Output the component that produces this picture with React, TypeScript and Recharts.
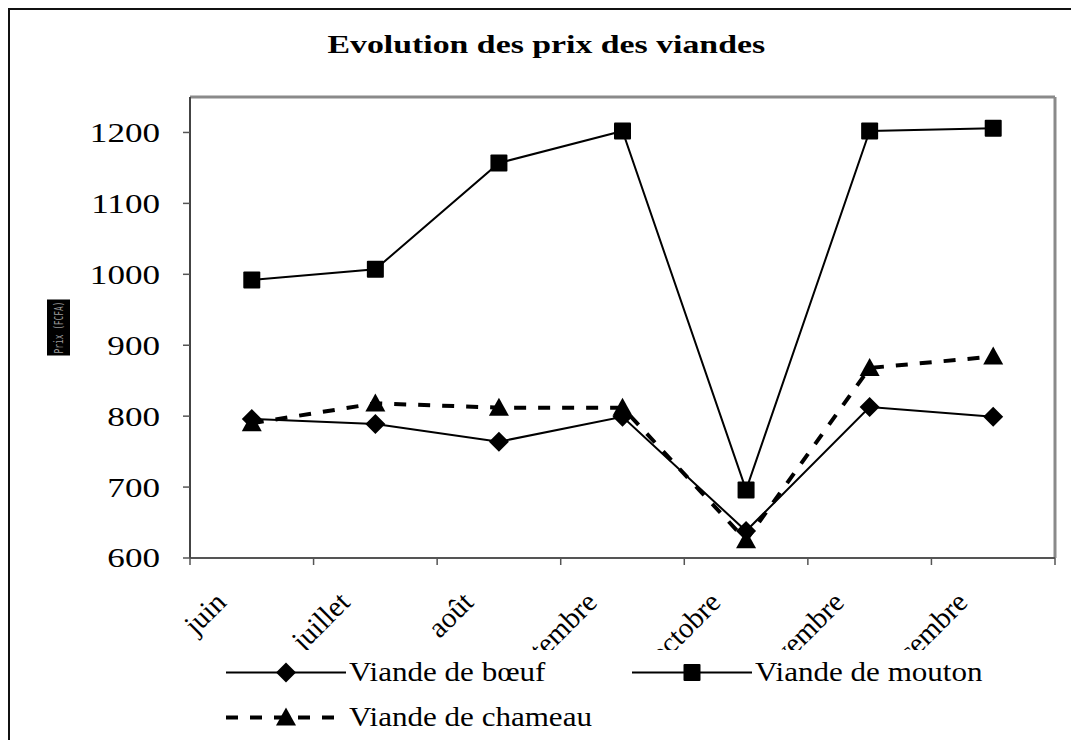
import React from 'react';
import { LineChart, Line, XAxis, YAxis, Legend, CartesianGrid } from 'recharts';

const months = ['juin', 'juillet', 'août', 'septembre', 'octobre', 'novembre', 'décembre'];
const boeuf = [796, 789, 764, 799, 638, 813, 799];
const mouton = [992, 1007, 1157, 1202, 696, 1202, 1206];
const chameau = [790, 818, 812, 812, 625, 868, 884];
const yTicks = [600, 700, 800, 900, 1000, 1100, 1200];

const data = months.map((m, i) => ({
  month: m,
  boeuf: boeuf[i],
  mouton: mouton[i],
  chameau: chameau[i],
}));

const SERIF = '"Liberation Serif", "Times New Roman", serif';
const SX = 1.3; // text in the source is drawn wide
const SX_LEG = 1.15;

const Diamond = ({ cx, cy }: any) =>
  cx == null ? null : (
    <path d={`M${cx},${cy - 10}L${cx + 10},${cy}L${cx},${cy + 10}L${cx - 10},${cy}Z`} fill="#000" />
  );
const Square = ({ cx, cy }: any) =>
  cx == null ? null : <rect x={cx - 8.5} y={cy - 8.5} width={17} height={17} fill="#000" rx={1} />;
const Triangle = ({ cx, cy }: any) =>
  cx == null ? null : (
    <path d={`M${cx},${cy - 10}L${cx + 10},${cy + 8}L${cx - 10},${cy + 8}Z`} fill="#000" />
  );

const markers: Record<string, any> = { boeuf: Diamond, mouton: Square, chameau: Triangle };

function XTick(props: any) {
  const { x, y, payload, index } = props;
  const half = payload.offset || 61.8;
  const axisY = y - 7;
  return (
    <g>
      <line x1={x - half} x2={x - half} y1={axisY} y2={axisY + 7} stroke="#555" strokeWidth={1.5} />
      {index === months.length - 1 && (
        <line x1={x + half} x2={x + half} y1={axisY} y2={axisY + 7} stroke="#555" strokeWidth={1.5} />
      )}
      <text
        transform={`translate(${x - 24},${axisY + 46}) rotate(-45)`}
        textAnchor="end"
        fontSize={29}
        fontFamily={SERIF}
        fill="#000"
      >
        {payload.value}
      </text>
    </g>
  );
}

function YTick(props: any) {
  const { x, y, payload } = props;
  return (
    <text
      transform={`translate(${x},${y}) scale(${SX},1)`}
      textAnchor="end"
      dy="0.35em"
      fontSize={27}
      fontFamily={SERIF}
      fill="#000"
    >
      {payload.value}
    </text>
  );
}

function YLabel(props: any) {
  const vb = props.viewBox || { x: 0, y: 97, width: 190, height: 461 };
  const cy = vb.y + vb.height / 2;
  const x = vb.x + 47;
  return (
    <g>
      <rect x={x} y={cy - 28} width={23} height={56} fill="#000" />
      <text
        transform={`translate(${x + 16},${cy}) rotate(-90)`}
        textAnchor="middle"
        fontSize={12}
        fill="#9a9a9a"
        fontFamily='"DejaVu Sans Mono", monospace'
        textLength={52}
        lengthAdjust="spacingAndGlyphs"
      >
        {props.value}
      </text>
    </g>
  );
}

function LegendIcon({ kind }: { kind: string }) {
  const M = markers[kind];
  const dashed = kind === 'chameau';
  return (
    <svg width={120} height={45} style={{ display: 'block' }}>
      <line
        x1={0}
        x2={120}
        y1={22.5}
        y2={22.5}
        stroke="#000"
        strokeWidth={dashed ? 4 : 2}
        strokeDasharray={dashed ? '12 12' : undefined}
      />
      <M cx={60} cy={22.5} />
    </svg>
  );
}

function renderLegend(props: any) {
  const items = props.payload || [];
  const place: Record<string, [number, number]> = {
    boeuf: [46, 0],
    mouton: [452, 0],
    chameau: [46, 45],
  };
  return (
    <div style={{ position: 'relative', height: 90, width: 880, background: '#fff' }}>
      {items.map((it: any) => {
        const [left, top] = place[it.dataKey] || [0, 0];
        return (
          <div key={it.dataKey} style={{ position: 'absolute', left, top, height: 45, display: 'flex', alignItems: 'center' }}>
            <LegendIcon kind={it.dataKey} />
            <span
              style={{
                marginLeft: 3,
                fontFamily: SERIF,
                fontSize: 27,
                whiteSpace: 'nowrap',
                display: 'inline-block',
                transform: `scaleX(${SX_LEG})`,
                transformOrigin: 'left center',
              }}
            >
              {it.value}
            </span>
          </div>
        );
      })}
    </div>
  );
}

export default function App() {
  return (
    <div style={{ position: 'fixed', left: 0, top: 0, width: 1071, height: 740, background: '#fff' }}>
      <style>{'html,body{overflow:hidden}'}</style>
      <div
        style={{
          position: 'absolute',
          left: 8,
          top: 8,
          width: 1100,
          height: 800,
          borderLeft: '2px solid #111',
          borderTop: '2px solid #111',
        }}
      />
      <LineChart
        width={1071}
        height={740}
        data={data}
        margin={{ top: 97, right: 16, bottom: 0, left: 0 }}
      >
        <CartesianGrid
          stroke="#8a8a8a"
          strokeWidth={3}
          horizontalCoordinatesGenerator={({ offset }: any) => [offset.top]}
          verticalCoordinatesGenerator={({ offset }: any) => [offset.left + offset.width]}
        />
        <XAxis
          dataKey="month"
          scale="band"
          height={92}
          interval={0}
          tickLine={false}
          tickSize={7}
          tickMargin={0}
          axisLine={{ stroke: '#555', strokeWidth: 2 }}
          tick={<XTick />}
        />
        <YAxis
          width={190}
          domain={[600, 1250]}
          ticks={yTicks}
          interval={0}
          tickSize={7}
          tickMargin={23}
          tickLine={{ stroke: '#555', strokeWidth: 1.5 }}
          axisLine={{ stroke: '#444', strokeWidth: 2 }}
          tick={<YTick />}
          label={{ value: 'Prix (FCFA)', content: <YLabel /> }}
        />
        <Legend
          verticalAlign="bottom"
          content={renderLegend}
          wrapperStyle={{ left: 180, top: 650, bottom: 'auto', width: 880 }}
        />
        <Line
          dataKey="boeuf"
          name="Viande de bœuf"
          stroke="#000"
          strokeWidth={2}
          dot={(p: any) => <Diamond key={`b${p.index}`} {...p} />}
          isAnimationActive={false}
        />
        <Line
          dataKey="mouton"
          name="Viande de mouton"
          stroke="#000"
          strokeWidth={2}
          dot={(p: any) => <Square key={`m${p.index}`} {...p} />}
          isAnimationActive={false}
        />
        <Line
          dataKey="chameau"
          name="Viande de chameau"
          stroke="#000"
          strokeWidth={4}
          strokeDasharray="12 12"
          dot={(p: any) => <Triangle key={`c${p.index}`} {...p} />}
          isAnimationActive={false}
        />
      </LineChart>
      <div
        style={{
          position: 'absolute',
          left: 246,
          width: 600,
          top: 28,
          textAlign: 'center',
          fontFamily: SERIF,
          fontWeight: 'bold',
          fontSize: 26,
          lineHeight: '34px',
          pointerEvents: 'none',
        }}
      >
        <span style={{ display: 'inline-block', transform: `scaleX(${SX})`, transformOrigin: 'center' }}>
          Evolution des prix des viandes
        </span>
      </div>
    </div>
  );
}
